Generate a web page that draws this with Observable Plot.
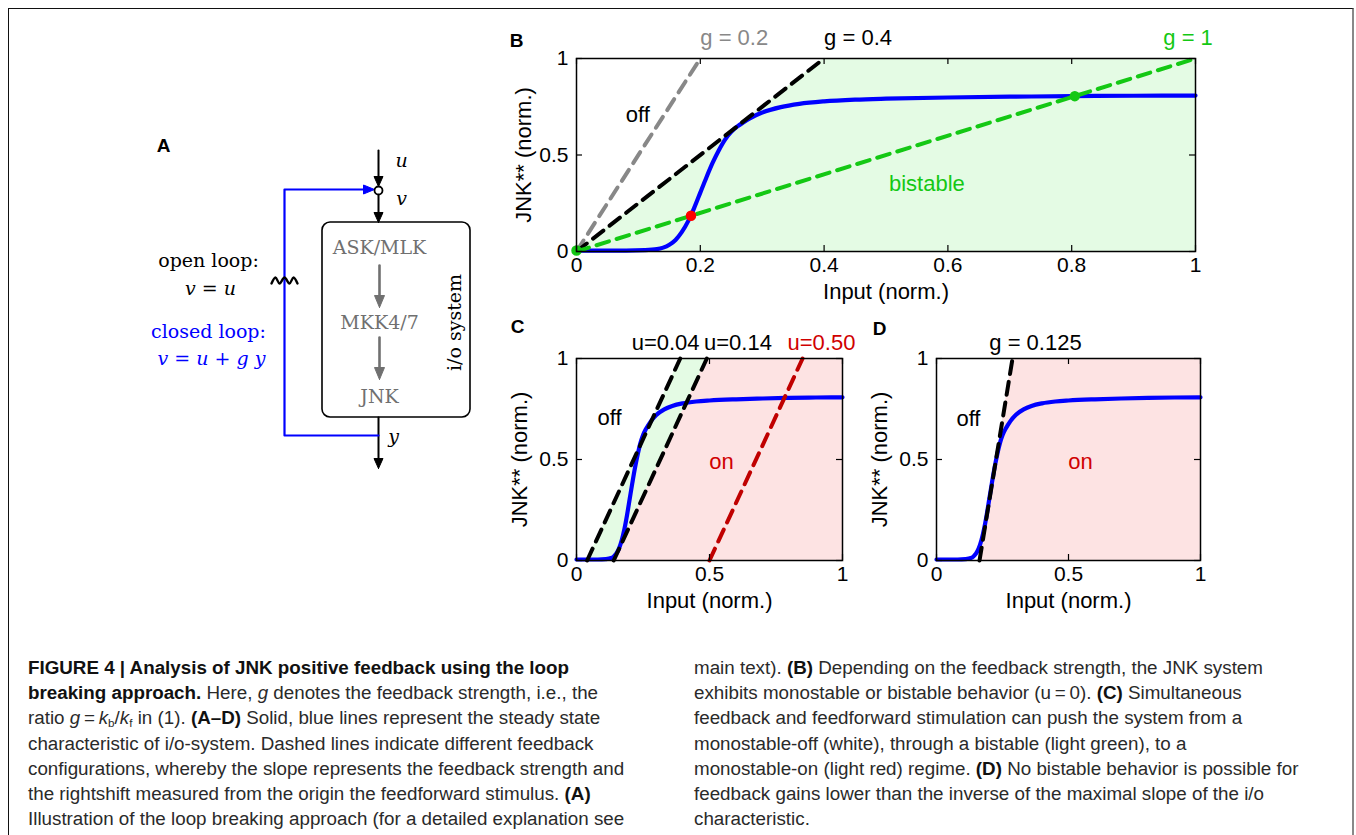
<!DOCTYPE html>
<html>
<head>
<meta charset="utf-8">
<script src="https://cdn.jsdelivr.net/npm/d3@7"></script>
<script src="https://cdn.jsdelivr.net/npm/@observablehq/plot@0.6"></script>
<style>
  html, body { margin: 0; padding: 0; background: #fff; }
  body { width: 1356px; height: 835px; position: relative; overflow: hidden; font-family: "Liberation Sans", Arial, sans-serif; }
  .abs { position: absolute; }
  #frame { left: 8px; top: 8px; width: 1343px; height: 900px; border-top: 1.5px solid #111; border-left: 1.5px solid #111; border-right: 2px solid #888; }
  .cap { font-size: 18.8px; line-height: 25.2px; color: #2a2a2a; white-space: nowrap; }
  .cap b { color: #111; }
  .cap sub { font-size: 0.62em; vertical-align: -0.25em; line-height: 0; }
</style>
</head>
<body>
<div id="frame" class="abs"></div>
<div id="A" class="abs" style="left:0;top:0"></div>
<div id="B" class="abs" style="left:500px;top:0"></div>
<div id="C" class="abs" style="left:480px;top:300px"></div>
<div id="D" class="abs" style="left:840px;top:300px"></div>
<div class="abs cap" style="left:28px;top:655px">
<b>FIGURE 4 | Analysis of JNK positive feedback using the loop</b><br>
<b>breaking approach.</b> Here, <i>g</i> denotes the feedback strength, i.e., the<br>
ratio <i>g</i>&#8201;=&#8201;<i>k</i><sub>b</sub>/<i>k</i><sub>f</sub> in (1). <b>(A–D)</b> Solid, blue lines represent the steady state<br>
characteristic of i/o-system. Dashed lines indicate different feedback<br>
configurations, whereby the slope represents the feedback strength and<br>
the rightshift measured from the origin the feedforward stimulus. <b>(A)</b><br>
Illustration of the loop breaking approach (for a detailed explanation see
</div>
<div class="abs cap" style="left:694px;top:655px">
main text). <b>(B)</b> Depending on the feedback strength, the JNK system<br>
exhibits monostable or bistable behavior (u&#8201;=&#8201;0). <b>(C)</b> Simultaneous<br>
feedback and feedforward stimulation can push the system from a<br>
monostable-off (white), through a bistable (light green), to a<br>
monostable-on (light red) regime. <b>(D)</b> No bistable behavior is possible for<br>
feedback gains lower than the inverse of the maximal slope of the i/o<br>
characteristic.
</div>
<script>
// ---------------- data ----------------
// steady-state i/o characteristic
const curveX = [0, 0.04, 0.08, 0.11, 0.13, 0.14, 0.15, 0.16, 0.17, 0.18, 0.19, 0.20, 0.21, 0.22, 0.23, 0.24, 0.25, 0.26, 0.27, 0.28, 0.30, 0.33, 0.36, 0.40, 0.45, 0.50, 0.60, 0.70, 0.80, 0.90, 1.00];
const curveY = [0.005, 0.005, 0.005, 0.007, 0.012, 0.02, 0.035, 0.06, 0.10, 0.155, 0.225, 0.305, 0.385, 0.46, 0.525, 0.58, 0.62, 0.648, 0.67, 0.69, 0.72, 0.748, 0.765, 0.778, 0.787, 0.792, 0.798, 0.802, 0.805, 0.807, 0.808];
// tick values
const xTicksB = [0, 0.2, 0.4, 0.6, 0.8, 1];
const xTicksCD = [0, 0.5, 1];
const yTicks = [0, 0.5, 1];
// panel B: feedback gains (u = 0)
const gainsB = [0.2, 0.4, 1];
const gainLabelsB = ["g = 0.2", "g = 0.4", "g = 1"];
const fixedPointsX = [0, 0.185, 0.805];
const fixedPointsY = [0.005, 0.185, 0.805];
const fixedPointStable = [true, false, true];
// panel C: feedforward stimuli at fixed gain
const gainC = 0.35;
const stimuliC = [0.04, 0.14, 0.50];
const stimulusLabelsC = ["u=0.04", "u=0.14", "u=0.50"];
// panel D
const gainD = 0.125;
const stimulusD = 0.163;
const edgeY = [0, 1];

// ---------------- styles ----------------
const BLUE = "#0000ff", GREEN = "#14c814", GRAY = "#888888", RED_TXT = "#d00000", RED_LINE = "#c00000";
const GREEN_FILL = "#e4fbe4", RED_FILL = "#fde3e3";
const DASH = "13,8";
const FONT = "'Liberation Sans', Arial, Helvetica, sans-serif";
const curve = curveX.map((x, i) => ({x, y: curveY[i]}));
const lineFor = (u, g) => edgeY.map(y => ({x: u + g * y, y}));

function panel(o) {
  const ih = o.height - o.mt - o.mb, iw = o.width - o.ml - o.mr;
  const tl = 6 / ih, tlx = 6 / iw;
  const marks = [];
  for (const r of o.regions) marks.push(Plot.areaX(edgeY, {y: d => d, x1: r.x1, x2: r.x2, fill: r.fill}));
  marks.push(Plot.line(curve, {x: "x", y: "y", stroke: BLUE, strokeWidth: 4.2, curve: "monotone-x"}));
  for (const l of o.lines) marks.push(Plot.line(lineFor(l.u, l.g), {x: "x", y: "y", stroke: l.color, strokeWidth: 4, strokeDasharray: DASH}));
  if (o.dots) marks.push(Plot.dot(o.dots, {x: "x", y: "y", r: 4.5, fill: "color", stroke: "color"}));
  // inward ticks on all four sides (box on)
  marks.push(Plot.ruleX(o.xTicks, {x: d => d, y1: 0, y2: tl, stroke: "black", strokeWidth: 1.2}));
  marks.push(Plot.ruleX(o.xTicks, {x: d => d, y1: 1 - tl, y2: 1, stroke: "black", strokeWidth: 1.2}));
  marks.push(Plot.ruleY(yTicks, {y: d => d, x1: 0, x2: tlx, stroke: "black", strokeWidth: 1.2}));
  marks.push(Plot.ruleY(yTicks, {y: d => d, x1: 1 - tlx, x2: 1, stroke: "black", strokeWidth: 1.2}));
  marks.push(Plot.frame({stroke: "black", strokeWidth: 1.5}));
  for (const t of o.texts) marks.push(Plot.text([t], {x: t.x, y: t.y, text: d => d.text, fill: t.color || "black", fontSize: t.size || 22, textAnchor: t.anchor || "middle", dy: t.dy || 0}));
  marks.push(Plot.text(["Input (norm.)"], {frameAnchor: "bottom", dy: 47, fontSize: 22, fill: "black"}));
  marks.push(Plot.text(["JNK** (norm.)"], {x: () => -o.yLabelOffset / iw, y: () => 0.5, rotate: -90, fontSize: 22, fill: "black"}));
  marks.push(Plot.text([o.letter], {x: () => o.letterDx / iw, y: () => 1 - o.letterDy / ih, fontSize: 19, fontWeight: "bold", fill: "black"}));
  return Plot.plot({
    width: o.width, height: o.height,
    marginLeft: o.ml, marginRight: o.mr, marginTop: o.mt, marginBottom: o.mb,
    style: {fontFamily: FONT, fontSize: "21px", background: "transparent", overflow: "visible", color: "black"},
    x: {domain: [0, 1], ticks: o.xTicks, tickSize: 0, tickPadding: 6, tickFormat: d => String(d), label: null},
    y: {domain: [0, 1], ticks: yTicks, tickSize: 0, tickPadding: 8, tickFormat: d => String(d), label: null},
    marks
  });
}

// ---------- panel B ----------
const bColors = [GRAY, "black", GREEN];
const bLabelX = [0.2, 0.4, 0.948];
document.getElementById("B").append(panel({
  width: 740, height: 300, ml: 76, mr: 45, mt: 58, mb: 49,
  xTicks: xTicksB, letter: "B", letterDx: -60, letterDy: -18, yLabelOffset: 53,
  regions: [{x1: y => 0.4 * y, x2: () => 1, fill: GREEN_FILL}],
  lines: gainsB.map((g, i) => ({u: 0, g, color: bColors[i]})),
  dots: fixedPointsX.map((x, i) => ({x, y: fixedPointsY[i], color: fixedPointStable[i] ? GREEN : "#ff0000"})),
  texts: [
    ...gainLabelsB.map((t, i) => ({text: t, x: bLabelX[i], y: 1, dy: -21, anchor: "start", color: bColors[i]})),
    {text: "off", x: 0.099, y: 0.71},
    {text: "bistable", x: 0.566, y: 0.352, color: GREEN}
  ]
}));

// ---------- panel C ----------
const cColors = ["black", "black", RED_LINE];
const cLabelX = [0.335, 0.607, 0.921];
document.getElementById("C").append(panel({
  width: 400, height: 330, ml: 96, mr: 38, mt: 58, mb: 70,
  xTicks: xTicksCD, letter: "C", letterDx: -59, letterDy: -32, yLabelOffset: 57,
  regions: [
    {x1: y => stimuliC[0] + gainC * y, x2: y => stimuliC[1] + gainC * y, fill: GREEN_FILL},
    {x1: y => stimuliC[1] + gainC * y, x2: () => 1, fill: RED_FILL}
  ],
  lines: stimuliC.map((u, i) => ({u, g: gainC, color: cColors[i]})),
  texts: [
    ...stimulusLabelsC.map((t, i) => ({text: t, x: cLabelX[i], y: 1, dy: -16, color: i === 2 ? RED_TXT : "black"})),
    {text: "off", x: 0.124, y: 0.706},
    {text: "on", x: 0.545, y: 0.49, color: RED_TXT}
  ]
}));

// ---------- panel D ----------
document.getElementById("D").append(panel({
  width: 400, height: 330, ml: 96, mr: 40, mt: 58, mb: 70,
  xTicks: xTicksCD, letter: "D", letterDx: -57, letterDy: -30, yLabelOffset: 57,
  regions: [{x1: y => stimulusD + gainD * y, x2: () => 1, fill: RED_FILL}],
  lines: [{u: stimulusD, g: gainD, color: "black"}],
  texts: [
    {text: "g = 0.125", x: 0.375, y: 1, dy: -16},
    {text: "off", x: 0.121, y: 0.703},
    {text: "on", x: 0.545, y: 0.49, color: RED_TXT}
  ]
}));

// ---------- panel A: loop-breaking diagram (pixel layout) ----------
const SERIF = "'DejaVu Serif', Cambria, Georgia, serif";
const DGRAY = "#707070";
const wires = [
  {id: "u", color: "black", w: 2, pts: [[378, 150], [378, 180]]},
  {id: "v", color: "black", w: 2, pts: [[378, 194], [378, 214]]},
  {id: "g1", color: DGRAY, w: 2.6, pts: [[379, 265], [379, 298]]},
  {id: "g2", color: DGRAY, w: 2.6, pts: [[379, 337], [379, 370]]},
  {id: "out", color: "black", w: 2, pts: [[378, 417], [378, 460]]},
  {id: "fb", color: BLUE, w: 2.2, pts: [[378, 435], [284, 435], [284, 189], [366, 189]]}
];
const heads = [
  {tip: [378, 186], dir: [0, 1], color: "black", len: 10, w: 9},
  {tip: [378, 222], dir: [0, 1], color: "black", len: 10, w: 9},
  {tip: [379, 307], dir: [0, 1], color: DGRAY, len: 12, w: 10},
  {tip: [379, 379], dir: [0, 1], color: DGRAY, len: 12, w: 10},
  {tip: [378, 468], dir: [0, 1], color: "black", len: 10, w: 9},
  {tip: [374, 189], dir: [1, 0], color: BLUE, len: 11, w: 9}
];
const zigzag = [[271, 283], [275, 277], [279, 283], [284, 277], [289, 283], [293, 277], [297, 283]];
const labelsA = [
  {t: "u", x: 401, y: 160, c: "black", italic: true},
  {t: "v", x: 401, y: 198, c: "black", italic: true},
  {t: "ASK/MLK", x: 379, y: 247, c: DGRAY},
  {t: "MKK4/7", x: 379, y: 322, c: DGRAY},
  {t: "JNK", x: 379, y: 396, c: DGRAY},
  {t: "y", x: 393, y: 436, c: "black", italic: true},
  {t: "open loop:", x: 208, y: 260, c: "black"},
  {t: "v = u", x: 210, y: 288, c: "black", italic: true},
  {t: "closed loop:", x: 208, y: 331, c: BLUE},
  {t: "v = u + g y", x: 211, y: 358, c: BLUE, italic: true}
];
const wirePts = wires.flatMap(w => w.pts.map(([x, y]) => ({x, y, id: w.id})));
const headPts = heads.flatMap((h, i) => {
  const [tx, ty] = h.tip, [dx, dy] = h.dir, px = -dy, py = dx;
  const bx = tx - dx * h.len, by = ty - dy * h.len;
  return [[tx, ty], [bx + px * h.w / 2, by + py * h.w / 2], [bx - px * h.w / 2, by - py * h.w / 2], [tx, ty]]
    .map(([x, y]) => ({x, y, id: "h" + i, color: h.color}));
});
const wireMarks = wires.map(w => Plot.line(wirePts.filter(p => p.id === w.id), {x: "x", y: "y", stroke: w.color, strokeWidth: w.w}));
document.getElementById("A").append(Plot.plot({
  width: 500, height: 500, margin: 0,
  style: {background: "transparent", overflow: "visible"},
  x: {type: "identity", axis: null}, y: {type: "identity", axis: null},
  marks: [
    Plot.rect([{x1: 322, x2: 470, y1: 222, y2: 417}], {x1: "x1", x2: "x2", y1: "y1", y2: "y2", rx: 8, ry: 8, fill: "none", stroke: "black", strokeWidth: 1.6}),
    ...wireMarks,
    Plot.line(headPts, {x: "x", y: "y", z: "id", fill: "color", stroke: "color", strokeWidth: 1}),
    Plot.dot([{x: 378, y: 190}], {x: "x", y: "y", r: 4, fill: "white", stroke: "black", strokeWidth: 1.8}),
    Plot.line(zigzag.map(([x, y]) => ({x, y})), {x: "x", y: "y", stroke: "black", strokeWidth: 2.4, curve: "catmull-rom"}),
    Plot.text(labelsA.filter(d => !d.italic), {x: "x", y: "y", text: "t", fill: "c", fontSize: 19, fontFamily: SERIF}),
    Plot.text(labelsA.filter(d => d.italic), {x: "x", y: "y", text: "t", fill: "c", fontStyle: "italic", fontSize: 19, fontFamily: SERIF}),
    Plot.text(["i/o system"], {x: () => 454, y: () => 322, rotate: -90, fontSize: 19, fontFamily: SERIF, fill: "black"}),
    Plot.text(["A"], {x: () => 163, y: () => 145, fontSize: 19, fontWeight: "bold", fontFamily: FONT, fill: "black"})
  ]
}));
</script>
</body>
</html>
